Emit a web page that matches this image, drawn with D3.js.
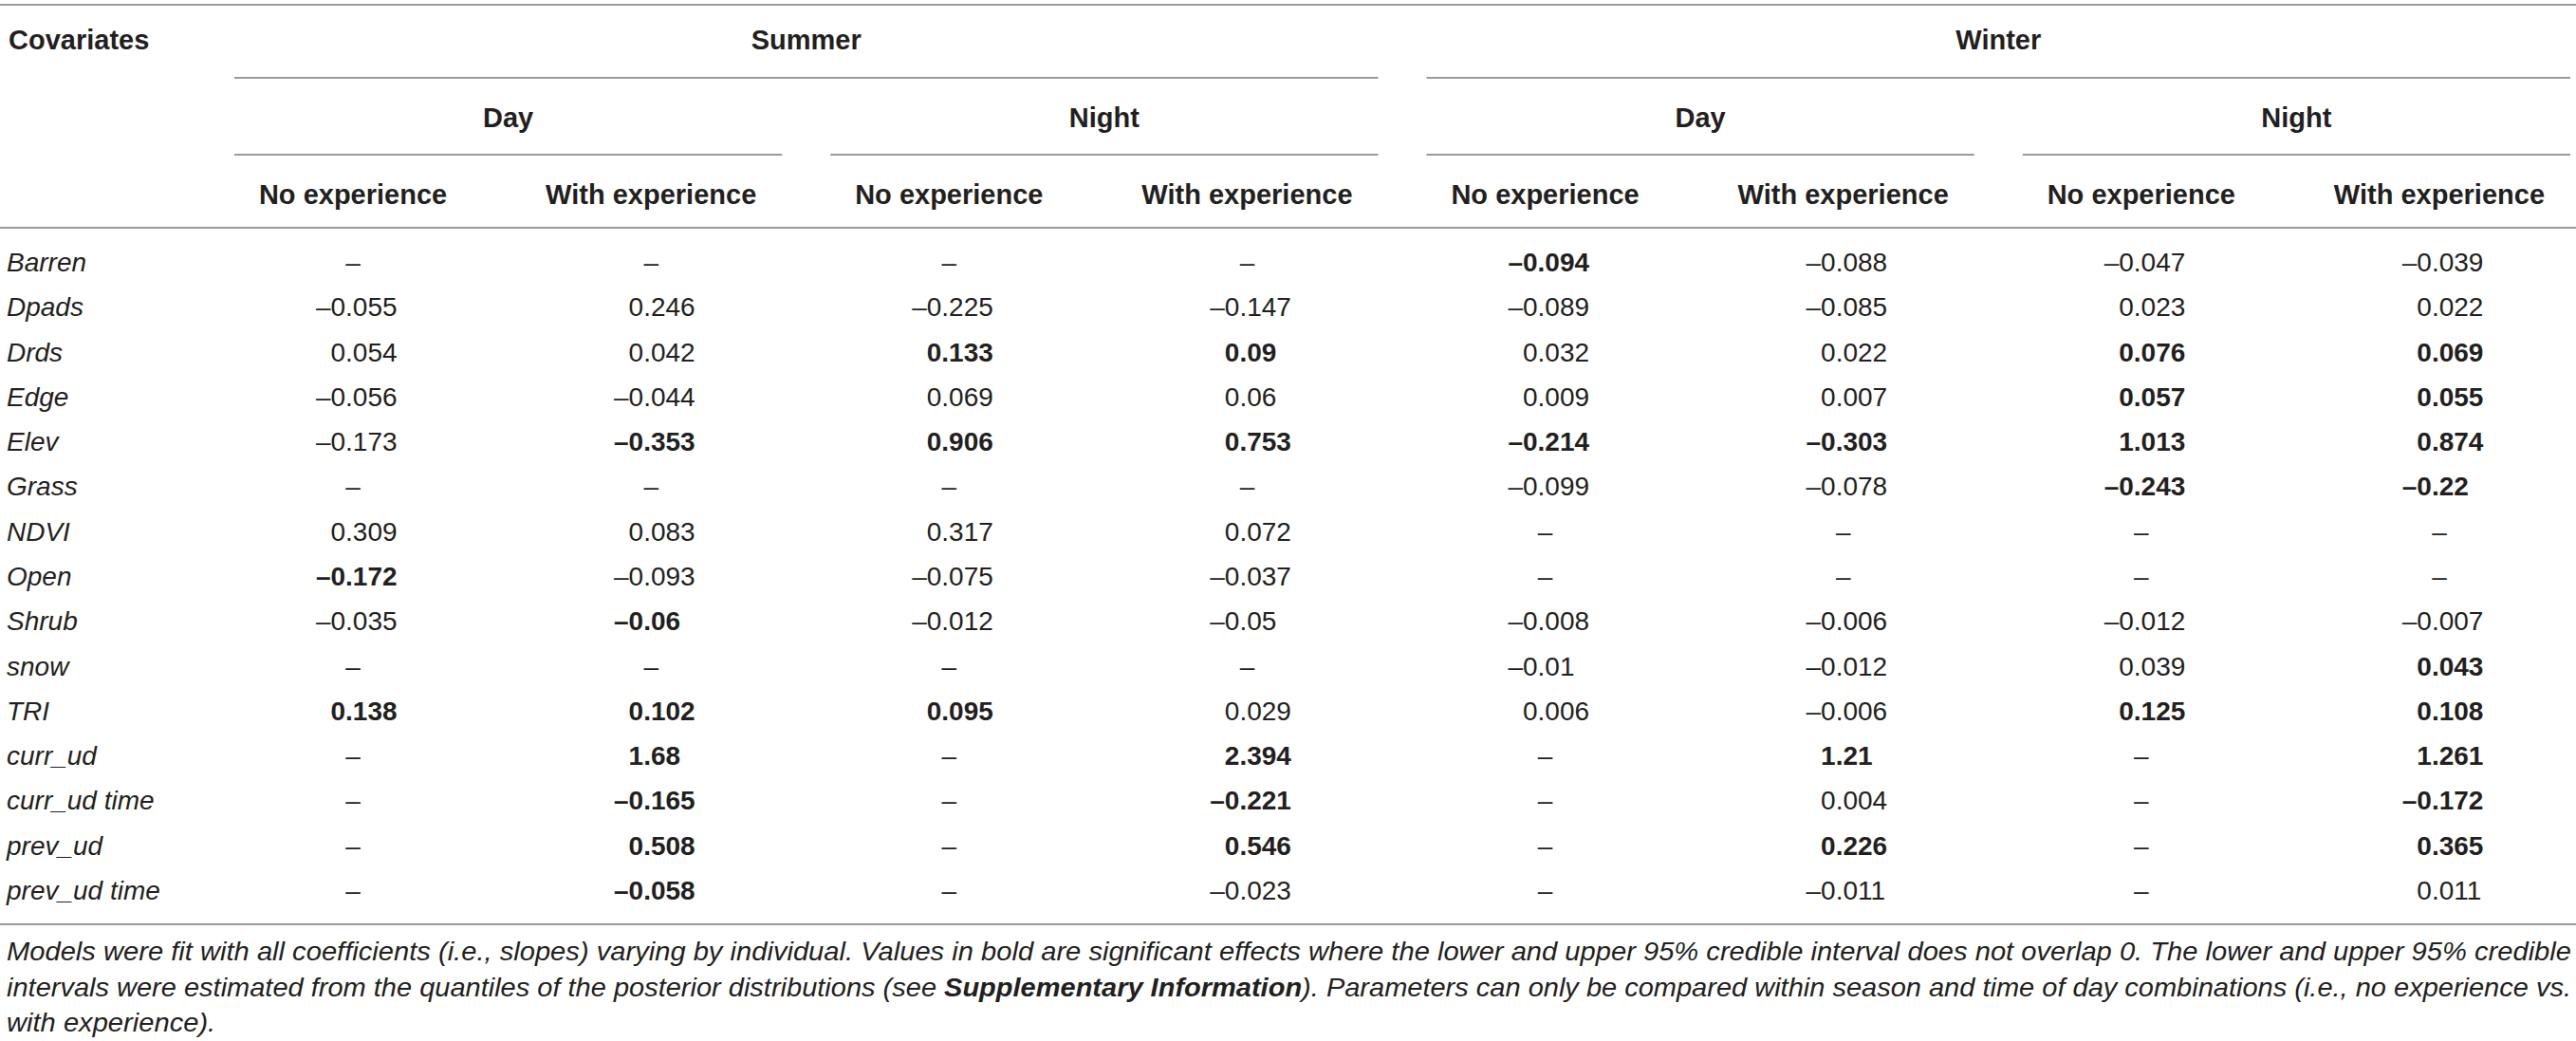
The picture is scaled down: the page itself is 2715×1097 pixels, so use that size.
<!DOCTYPE html>
<html>
<head>
<meta charset="utf-8">
<script src="https://cdn.jsdelivr.net/npm/d3@7"></script>
<style>
  body { margin: 0; background: #fff; }
  svg { display: block; }
  text { fill: #231f20; }
</style>
</head>
<body>
<svg id="table"></svg>
<script>
// Table dimensions
const width = 2715;
const height = 1097;

// Column headers
const seasons = ["Summer", "Winter"];
const periods = ["Day", "Night"];
const experience = ["No experience", "With experience"];

// Row labels
const covariates = ["Barren", "Dpads", "Drds", "Edge", "Elev", "Grass", "NDVI", "Open",
  "Shrub", "snow", "TRI", "curr_ud", "curr_ud time", "prev_ud", "prev_ud time"];

// Values per row, 8 columns (null = not in model)
const values = [
  [null, null, null, null, -0.094, -0.088, -0.047, -0.039],
  [-0.055, 0.246, -0.225, -0.147, -0.089, -0.085, 0.023, 0.022],
  [0.054, 0.042, 0.133, 0.09, 0.032, 0.022, 0.076, 0.069],
  [-0.056, -0.044, 0.069, 0.06, 0.009, 0.007, 0.057, 0.055],
  [-0.173, -0.353, 0.906, 0.753, -0.214, -0.303, 1.013, 0.874],
  [null, null, null, null, -0.099, -0.078, -0.243, -0.22],
  [0.309, 0.083, 0.317, 0.072, null, null, null, null],
  [-0.172, -0.093, -0.075, -0.037, null, null, null, null],
  [-0.035, -0.06, -0.012, -0.05, -0.008, -0.006, -0.012, -0.007],
  [null, null, null, null, -0.01, -0.012, 0.039, 0.043],
  [0.138, 0.102, 0.095, 0.029, 0.006, -0.006, 0.125, 0.108],
  [null, 1.68, null, 2.394, null, 1.21, null, 1.261],
  [null, -0.165, null, -0.221, null, 0.004, null, -0.172],
  [null, 0.508, null, 0.546, null, 0.226, null, 0.365],
  [null, -0.058, null, -0.023, null, -0.011, null, 0.011]
];

// Significant effects (shown in bold)
const significant = [
  [0, 0, 0, 0, 1, 0, 0, 0],
  [0, 0, 0, 0, 0, 0, 0, 0],
  [0, 0, 1, 1, 0, 0, 1, 1],
  [0, 0, 0, 0, 0, 0, 1, 1],
  [0, 1, 1, 1, 1, 1, 1, 1],
  [0, 0, 0, 0, 0, 0, 1, 1],
  [0, 0, 0, 0, 0, 0, 0, 0],
  [1, 0, 0, 0, 0, 0, 0, 0],
  [0, 1, 0, 0, 0, 0, 0, 0],
  [0, 0, 0, 0, 0, 0, 0, 1],
  [1, 1, 1, 0, 0, 0, 1, 1],
  [0, 1, 0, 1, 0, 1, 0, 1],
  [0, 1, 0, 1, 0, 0, 0, 1],
  [0, 1, 0, 1, 0, 1, 0, 1],
  [0, 1, 0, 0, 0, 0, 0, 0]
];

// Footnote lines (bold parts marked with **)
const footnote = [
  "Models were fit with all coefficients (i.e., slopes) varying by individual. Values in bold are significant effects where the lower and upper 95% credible interval does not overlap 0. The lower and upper 95% credible",
  "intervals were estimated from the quantiles of the posterior distributions (see **Supplementary Information**). Parameters can only be compared within season and time of day combinations (i.e., no experience vs.",
  "with experience)."
];

const lineColor = "#9a9a9a";
const headFont = "'Liberation Sans', Arial, sans-serif";
const numFont = "'Liberation Sans', Arial, sans-serif";

const svg = d3.select("#table").attr("width", width).attr("height", height);

// Build column keys: season|period|experience
const columns = [];
seasons.forEach((s) => periods.forEach((p) => experience.forEach((e) => columns.push({ s, p, e, key: `${s}|${p}|${e}` }))));

const x = d3.scaleBand().domain(columns.map((c) => c.key)).range([215, 2728]);
const y = d3.scalePoint().domain(covariates).range([276, 938]);

// Span helpers for grouped headers
function span(keys) {
  const x0 = d3.min(keys, (k) => x(k));
  const x1 = d3.max(keys, (k) => x(k) + x.bandwidth());
  return [x0 + 32, x1 - 19];
}

function hline(y0, x0, x1) {
  svg.append("line")
    .attr("x1", x0).attr("x2", x1)
    .attr("y1", y0).attr("y2", y0)
    .attr("stroke", lineColor)
    .attr("stroke-width", 2);
}

// Rules
hline(5, 0, width);
hline(240, 0, width);
hline(974, 0, width);

// Header: Covariates
svg.append("text")
  .attr("x", 9).attr("y", 52)
  .attr("font-family", headFont).attr("font-weight", "bold").attr("font-size", 29)
  .text("Covariates");

// Header: seasons
seasons.forEach((s) => {
  const [a, b] = span(columns.filter((c) => c.s === s).map((c) => c.key));
  hline(82, a, b);
  svg.append("text")
    .attr("x", (a + b) / 2).attr("y", 52)
    .attr("text-anchor", "middle")
    .attr("font-family", headFont).attr("font-weight", "bold").attr("font-size", 29)
    .text(s);

  // Header: periods
  periods.forEach((p) => {
    const [c0, c1] = span(columns.filter((c) => c.s === s && c.p === p).map((c) => c.key));
    hline(163, c0, c1);
    svg.append("text")
      .attr("x", (c0 + c1) / 2).attr("y", 134)
      .attr("text-anchor", "middle")
      .attr("font-family", headFont).attr("font-weight", "bold").attr("font-size", 29)
      .text(p);
  });
});

// Header: experience
svg.selectAll(".exp-head")
  .data(columns)
  .enter()
  .append("text")
  .attr("class", "exp-head")
  .attr("x", (d) => x(d.key) + x.bandwidth() / 2)
  .attr("y", 215)
  .attr("text-anchor", "middle")
  .attr("font-family", headFont).attr("font-weight", "bold").attr("font-size", 29)
  .text((d) => d.e);

// Row labels
svg.selectAll(".row-label")
  .data(covariates)
  .enter()
  .append("text")
  .attr("class", "row-label")
  .attr("x", 7)
  .attr("y", (d) => y(d) + 10)
  .attr("font-family", headFont).attr("font-style", "italic").attr("font-size", 28)
  .text((d) => d);

// Cells
const cells = [];
covariates.forEach((cov, i) => {
  columns.forEach((col, j) => {
    cells.push({ cov, col: col.key, v: values[i][j], bold: significant[i][j] === 1 });
  });
});

function fmt(v) {
  return (v < 0 ? "\u2013" : "") + String(Math.abs(v));
}

const cell = svg.selectAll(".cell")
  .data(cells)
  .enter()
  .append("g")
  .attr("class", "cell")
  .attr("transform", (d) => `translate(${x(d.col) + x.bandwidth() / 2}, ${y(d.cov) + 10})`)
  .attr("font-family", numFont)
  .attr("font-size", 28)
  .attr("font-weight", (d) => (d.bold ? "bold" : "normal"));

// Missing values: centered dash
cell.filter((d) => d.v === null)
  .append("text")
  .attr("text-anchor", "middle")
  .attr("fill", "#333")
  .text("\u2013");

// Numbers aligned on the decimal point
const num = cell.filter((d) => d.v !== null);
num.append("text")
  .attr("x", -8)
  .attr("text-anchor", "end")
  .attr("fill", (d) => (d.bold ? "#231f20" : "#3a3a3a"))
  .text((d) => fmt(d.v).split(".")[0]);
num.append("text")
  .attr("x", -8)
  .attr("text-anchor", "start")
  .attr("fill", (d) => (d.bold ? "#231f20" : "#3a3a3a"))
  .text((d) => "." + fmt(d.v).split(".")[1]);

// Footnote
const footY = [1012, 1050, 1087];
const notes = footnote.map((line, i) => {
  const t = svg.append("text")
    .attr("x", 7)
    .attr("y", footY[i])
    .attr("font-family", numFont)
    .attr("font-style", "italic")
    .attr("font-size", 28)
    .attr("fill", "#333");
  line.split("**").forEach((part, k) => {
    t.append("tspan")
      .attr("font-weight", k % 2 === 1 ? "bold" : "normal")
      .text(part);
  });
  return t;
});

// Justify the first two lines and squeeze the last one by the same ratio
const target = width - 7 - 5;
const ratio = target / notes[0].node().getComputedTextLength();
notes.forEach((t, i) => {
  const len = i < 2 ? target : t.node().getComputedTextLength() * ratio;
  t.attr("textLength", len).attr("lengthAdjust", "spacingAndGlyphs");
});
</script>
</body>
</html>
